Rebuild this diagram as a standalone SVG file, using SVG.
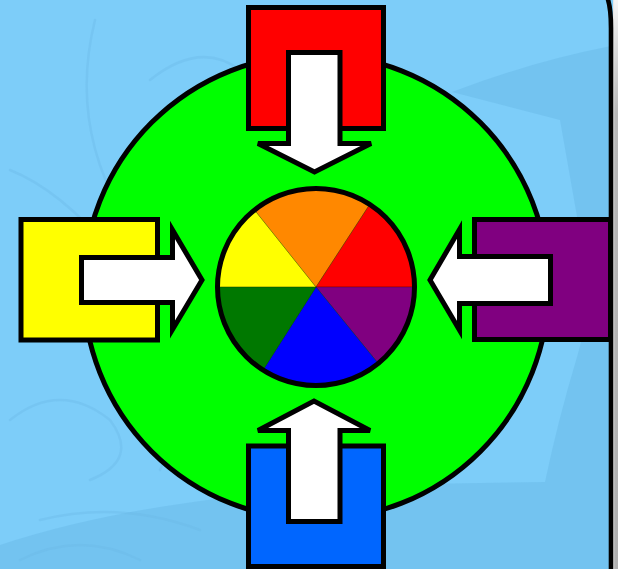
<svg xmlns="http://www.w3.org/2000/svg" width="618" height="569" viewBox="0 0 618 569">
  <defs>
    <linearGradient id="edge" x1="0" y1="0" x2="0" y2="1">
      <stop offset="0" stop-color="#f6f6f6"/>
      <stop offset="0.2" stop-color="#b8b8b8"/>
      <stop offset="1" stop-color="#b0b0b0"/>
    </linearGradient>
  </defs>
  <style>
    .box { stroke: #000; stroke-width: 5; }
    .arrow { fill: #fff; stroke: #000; stroke-width: 5; stroke-linejoin: miter; }
    .sector { stroke: rgba(0,0,0,0.22); stroke-width: 1; }
    .swirl { fill: none; stroke: #6ab8e5; stroke-opacity: 0.35; stroke-width: 2.5; stroke-linecap: round; }
  </style>

  <!-- background -->
  <g id="background">
    <rect x="0" y="0" width="618" height="569" fill="#7dcdf9"/>
    <path d="M452,92 Q530,62 611,46 L611,569 L0,569 L0,545 Q120,505 300,490 L420,484 L545,482 Q558,420 577,357 Q588,320 590,290 L560,120 Z" fill="#70c0ee" opacity="0.8"/>
    <path class="swirl" d="M10,170 Q60,190 110,250 Q150,300 120,330 M60,320 Q120,300 170,330 M95,20 Q70,120 120,210 M150,80 Q200,40 240,70 Q270,100 240,140 Q210,160 230,120"/>
    <path class="swirl" d="M10,420 Q60,380 110,420 Q140,460 90,480 M40,520 Q120,500 200,530 M20,560 Q80,530 140,560 M150,400 Q180,430 160,470"/>
    <rect x="613" y="0" width="5" height="569" fill="url(#edge)"/>
    <rect x="613" y="0" width="1.2" height="569" fill="#e8e8e8"/>
    <path d="M607.5,-2 Q611,8 611,28 L611,569" fill="none" stroke="#000" stroke-width="4.6"/>
  </g>

  <!-- big green circle -->
  <g id="hub">
    <circle cx="316" cy="287" r="232.5" fill="#00ff00" stroke="#000" stroke-width="5"/>
  </g>

  <!-- color wheel -->
  <g id="wheel">
    <path class="sector" d="M316,287 L216,287 A100,100 0 0 1 253.6,208.8 Z" fill="#ffff00"/>
    <path class="sector" d="M316,287 L253.6,208.8 A100,100 0 0 1 370.5,203.2 Z" fill="#ff8800"/>
    <path class="sector" d="M316,287 L370.5,203.2 A100,100 0 0 1 416,287 Z" fill="#ff0000"/>
    <path class="sector" d="M316,287 L416,287 A100,100 0 0 1 379.1,364.6 Z" fill="#800080"/>
    <path class="sector" d="M316,287 L379.1,364.6 A100,100 0 0 1 262.3,371.3 Z" fill="#0000ff"/>
    <path class="sector" d="M316,287 L262.3,371.3 A100,100 0 0 1 216,287 Z" fill="#007800"/>
    <circle cx="316" cy="287" r="98.5" fill="none" stroke="#000" stroke-width="5"/>
  </g>

  <!-- source boxes -->
  <g id="box-red">
    <rect class="box" x="248.5" y="7.5" width="135" height="121" fill="#ff0000"/>
  </g>
  <g id="box-yellow">
    <rect class="box" x="21" y="219.5" width="136.5" height="120.5" fill="#ffff00"/>
  </g>
  <g id="box-purple">
    <rect class="box" x="474.5" y="219.5" width="136" height="120" fill="#800080"/>
  </g>
  <g id="box-blue">
    <rect class="box" x="248.5" y="446" width="135" height="120.5" fill="#0066ff"/>
  </g>

  <!-- connectors: block arrows -->
  <g id="connectors">
    <path class="arrow" d="M288.5,52.5 H340 V143.5 H371 L314.5,172 L258,143.5 H288.5 Z"/>
    <path class="arrow" d="M81.5,257.5 H172.5 V230 L202,280 L172.5,329.5 V302.5 H81.5 Z"/>
    <path class="arrow" d="M550.5,256.5 V303.5 H459.5 V330 L430,280 L459.5,229.5 V256.5 Z"/>
    <path class="arrow" d="M288.5,521.5 V430.5 H258 L314,401 L370,430.5 H340 V521.5 Z"/>
  </g>
</svg>
